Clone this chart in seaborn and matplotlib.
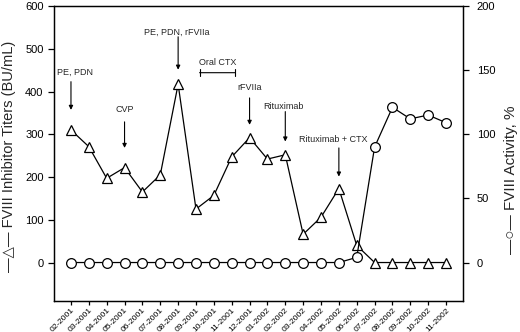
import matplotlib
matplotlib.use("Agg")
import matplotlib.pyplot as plt
import seaborn as sns
import pandas as pd
import numpy as np

months = ["02-2001", "03-2001", "04-2001", "05-2001", "06-2001", "07-2001",
          "08-2001", "09-2001", "10-2001", "11-2001", "12-2001", "01-2002",
          "02-2002", "03-2002", "04-2002", "05-2002", "06-2002", "07-2002",
          "08-2002", "09-2002", "10-2002", "11-2002"]
titers = [310, 271, 197, 222, 165, 205, 417, 125, 157, 247, 292, 242,
          252, 66, 106, 173, 40, 0, 0, 0, 0, 0]
activity = [0, 0, 0, 0, 0, 0, 0, 0, 0, 0, 0, 0,
            0, 0, 0, 0, 4, 90, 121, 112, 115, 109]

left_ticks = [0, 100, 200, 300, 400, 500, 600]
right_ticks = [0, 50, 100, 150, 200]

# annotations: (label, x index of target month, text y, arrow start y, arrow end y) on left scale
events = [
    ("PE, PDN", 0, 444, 423, 357),
    ("CVP", 3, 357, 329, 268),
    ("PE, PDN, rFVIIa", 6, 539, 528, 451),
    ("rFVIIa", 10, 409, 385, 322),
    ("Rituximab", 12, 364, 353, 283),
    ("Rituximab + CTX", 15, 287, 268, 201),
]
text_dx = [0.22, 0.0, -0.1, 0.0, -0.1, -0.3]
oral_ctx = ("Oral CTX", 7.2, 9.2, 444, 469)

df = pd.DataFrame({"month": months, "pos": np.arange(len(months)),
                   "titers": titers, "activity": activity})

sns.set_style("ticks")
plt.rcParams["font.family"] = ["Liberation Sans", "DejaVu Sans"]

fig = plt.figure(figsize=(5.2, 3.32), dpi=100)
ax = fig.add_axes([54 / 520, (332 - 301) / 332, (463 - 54) / 520, (301 - 6) / 332])
ax2 = ax.twinx()

sns.lineplot(data=df, x="pos", y="titers", ax=ax, color="black", lw=0.9,
             marker="^", markersize=7, markerfacecolor="white",
             markeredgecolor="black", markeredgewidth=0.9)
sns.lineplot(data=df, x="pos", y="activity", ax=ax2, color="black", lw=0.9,
             marker="o", markersize=7, markerfacecolor="white",
             markeredgecolor="black", markeredgewidth=0.9)

ax.set_xlim(-0.95, len(months) - 0.05)
ax.set_ylim(-90, 600)
ax2.set_ylim(-30, 200)
ax.set_xticks(df["pos"])
ax.set_xticklabels(months, rotation=45, ha="right", rotation_mode="anchor", fontsize=6)
ax.set_yticks(left_ticks)
ax.set_yticklabels([str(v) for v in left_ticks], fontsize=8)
ax2.set_yticks(right_ticks)
ax2.set_yticklabels([str(v) for v in right_ticks], fontsize=8)

for a in (ax, ax2):
    for s in a.spines.values():
        s.set_linewidth(0.9)
        s.set_color("black")
ax.tick_params(axis="y", length=4, width=0.9, pad=3.5, colors="black")
ax.tick_params(axis="x", length=3, width=0.9, pad=1.0, colors="black")
ax2.tick_params(axis="y", length=4, width=0.9, pad=6, colors="black")

ax.set_xlabel("")
ax.set_ylabel("\u2014\u25b3\u2014 FVIII Inhibitor Titers (BU/mL)", fontsize=10.5)
ax.yaxis.set_label_coords(-0.092, 0.49)
ax2.set_ylabel("\u2014\u25cb\u2014 FVIII Activity, %", fontsize=11)
ax2.yaxis.set_label_coords(1.100, 0.41)

for (label, xi, ty, ay0, ay1), dx in zip(events, text_dx):
    ax.text(xi + dx, ty, label, ha="center", va="center", fontsize=6.5)
    ax.annotate("", xy=(xi, ay1), xytext=(xi, ay0),
                arrowprops=dict(arrowstyle="-|>", lw=0.8, color="black",
                                mutation_scale=6, shrinkA=0, shrinkB=0))

lab, x0, x1, by, ty = oral_ctx
ax.annotate("", xy=(x1, by), xytext=(x0, by),
            arrowprops=dict(arrowstyle="|-|,widthA=0.25,widthB=0.25", lw=0.8,
                            color="black", mutation_scale=10, shrinkA=0, shrinkB=0))
ax.text((x0 + x1) / 2, ty, lab, ha="center", va="center", fontsize=6.5)

fig.savefig("out.png", dpi=100)
